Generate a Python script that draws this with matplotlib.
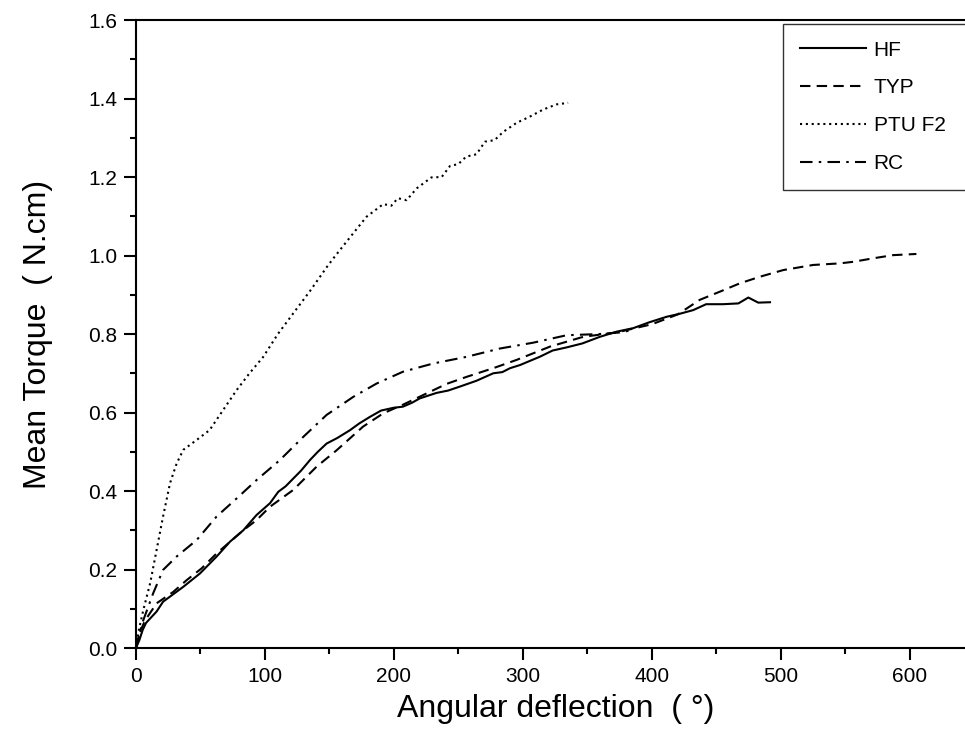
import matplotlib
matplotlib.use("Agg")
import matplotlib.pyplot as plt
from matplotlib.ticker import MultipleLocator

plt.rcParams['font.family'] = ['Liberation Sans', 'DejaVu Sans']

hf_x = [0, 2.6, 5.2, 7.8, 16, 21, 36.7, 49.6, 62.5, 72.9, 83.2, 93.5, 103.9, 110.3, 116, 122, 128, 134.9,
        141, 147.8, 156, 165.9, 173, 181.4, 190, 199.5, 207, 214, 220, 233, 242, 251, 264, 277, 284, 290, 297.7, 313, 323, 333.9,
        346, 359.7, 372.6, 385.5, 398, 411.4, 422, 432, 442, 455, 467, 474.7, 482.4, 491.5]
hf_y = [0, 0.02, 0.046, 0.064, 0.093, 0.118, 0.156, 0.19, 0.233, 0.271, 0.30, 0.339, 0.369, 0.398, 0.412, 0.432, 0.452, 0.479,
        0.50, 0.521, 0.535, 0.555, 0.572, 0.589, 0.605, 0.612, 0.615, 0.625, 0.636, 0.65, 0.656, 0.666, 0.681, 0.70, 0.703, 0.713, 0.721, 0.742, 0.758, 0.766,
        0.776, 0.793, 0.806, 0.815, 0.83, 0.844, 0.852, 0.861, 0.876, 0.876, 0.878, 0.893, 0.88, 0.881]

typ_x = [0, 3, 7, 16, 28.9, 39.3, 50.9, 62.5, 83.2, 93.5, 103.9, 122, 140, 155.6, 176, 191.7,
         207, 240.8, 256.4, 277, 295, 321, 346.8, 372.6, 400, 420, 437, 452.7, 468, 483.7,
         501.8, 525, 545.7, 556, 571.6, 587, 605]
typ_y = [0, 0.04, 0.07, 0.114, 0.143, 0.173, 0.203, 0.241, 0.30, 0.326, 0.36, 0.403, 0.462, 0.504, 0.564, 0.598,
         0.62, 0.673, 0.691, 0.713, 0.734, 0.768, 0.793, 0.804, 0.825, 0.85, 0.887, 0.908, 0.929, 0.946,
         0.963, 0.976, 0.98, 0.984, 0.993, 1.001, 1.004]

ptu_x = [0, 2.5, 5.7, 11, 16, 21, 26.4, 31.5, 36.7, 47, 57, 67.7, 78, 88, 98.7, 110, 122, 135,
         147.8, 154, 168.5, 178.8, 191.7, 198, 203, 209.8, 217.6, 229, 237, 243.4, 249.9, 256,
         264, 270.5, 278, 284.7, 295, 305.4, 315.7, 326, 335]
ptu_y = [0, 0.05, 0.097, 0.165, 0.25, 0.335, 0.42, 0.47, 0.505, 0.53, 0.555, 0.607, 0.657, 0.70, 0.742, 0.80, 0.853, 0.91,
         0.97, 0.997, 1.057, 1.099, 1.131, 1.127, 1.146, 1.141, 1.171, 1.199, 1.20, 1.228, 1.233, 1.252,
         1.258, 1.29, 1.294, 1.315, 1.338, 1.354, 1.372, 1.385, 1.389]

rc_x = [0, 2.5, 5.7, 13.4, 21, 31.5, 47, 62.5, 78, 93.5, 111.6, 129.7, 147.8, 168.5, 186.6, 207,
        230.5, 256.4, 282, 308, 333.9, 359.7, 375, 385]
rc_y = [0, 0.035, 0.071, 0.14, 0.199, 0.233, 0.275, 0.335, 0.381, 0.428, 0.479, 0.538, 0.594, 0.64, 0.674, 0.704,
        0.725, 0.742, 0.763, 0.778, 0.797, 0.80, 0.804, 0.81]

fig = plt.figure(figsize=(9.65, 7.53), dpi=100)
ax = fig.add_axes([0.1409, 0.1394, 0.8689, 0.834])

lw = 1.5
ax.plot(hf_x, hf_y, color='black', lw=lw, linestyle='-', label='HF')
ax.plot(typ_x, typ_y, color='black', lw=lw, linestyle=(0, (5, 3)), label='TYP')
ax.plot(ptu_x, ptu_y, color='black', lw=lw, linestyle=(0, (1, 1.8)), label='PTU F2')
ax.plot(rc_x, rc_y, color='black', lw=lw, linestyle=(0, (6, 3, 1.2, 3)), label='RC')

ax.set_xlim(0, 650)
ax.set_ylim(0, 1.6)
ax.xaxis.set_major_locator(MultipleLocator(100))
ax.xaxis.set_minor_locator(MultipleLocator(50))
ax.yaxis.set_major_locator(MultipleLocator(0.2))
ax.yaxis.set_minor_locator(MultipleLocator(0.1))
ax.yaxis.set_major_formatter(plt.FuncFormatter(lambda v, p: f"{v:.1f}"))

for s in ax.spines.values():
    s.set_linewidth(1.5)
ax.tick_params(which='major', direction='out', length=8.5, width=1.5, labelsize=15, pad=5)
ax.tick_params(which='minor', direction='out', length=4.5, width=1.5)

ax.set_xlabel('Angular deflection  ( °)', fontsize=23, labelpad=6)
ax.set_ylabel('Mean Torque  ( N.cm)', fontsize=23, labelpad=25)

leg = ax.legend(loc='upper left', bbox_to_anchor=(0.7716, 0.9936, 0.25, 0), mode='expand',
                borderaxespad=0, fontsize=15, handlelength=3.2, labelspacing=0.9,
                handletextpad=0.35, fancybox=False, frameon=True, borderpad=0.8)
leg.get_frame().set_edgecolor('black')
leg.get_frame().set_linewidth(1.0)

fig.savefig('out.png', dpi=100)
